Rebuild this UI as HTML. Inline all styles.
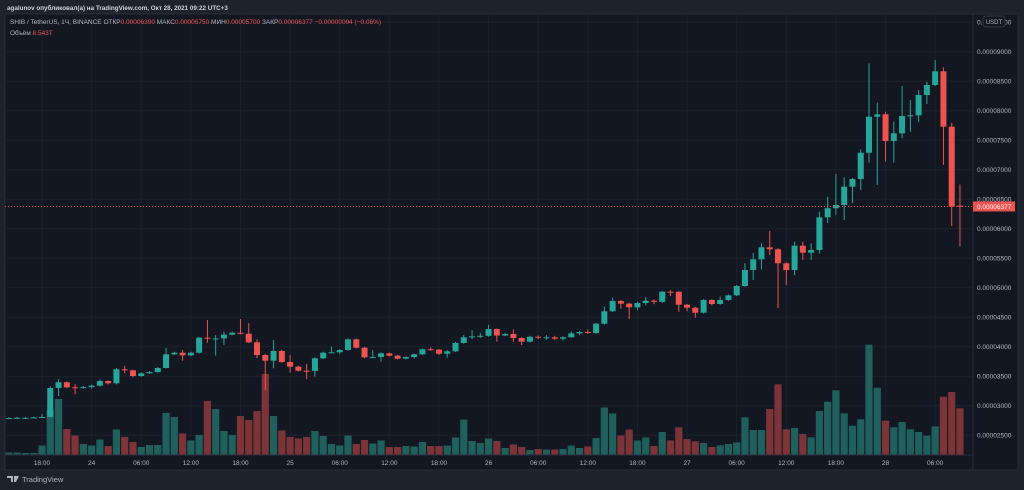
<!DOCTYPE html>
<html><head><meta charset="utf-8"><style>
body{margin:0;width:1024px;height:490px;background:#1e222d;overflow:hidden;font-family:"Liberation Sans","DejaVu Sans",sans-serif}
svg{display:block}
</style></head><body>
<svg id="c" width="1024" height="490" xmlns="http://www.w3.org/2000/svg">
<rect x="0" y="0" width="1024" height="490" fill="#1e222d"/>
<rect x="5" y="14" width="1013" height="456" fill="#131722" stroke="#2a2e39" stroke-width="1"/>
<text x="7" y="10" font-size="6.3" font-weight="bold" fill="#d1d4dc">agalunov опубликовал(а) на TradingView.com, Окт 28, 2021 09:22 UTC+3</text>
<g id="grid"></g><g id="vol"></g><g id="candles"></g>
<line x1="973" y1="14" x2="973" y2="470" stroke="#2a2e39"/>
<line x1="5" y1="455" x2="973" y2="455" stroke="#2a2e39"/>
<g id="axes"></g>
<text x="10" y="24" font-size="6.5" fill="#b2b5be">SHIB / TetherUS, 1Ч, BINANCE  ОТКР<tspan fill="#ef5350">0.00006390</tspan>  МАКС<tspan fill="#ef5350">0.00006750</tspan>  МИН<tspan fill="#ef5350">0.00005700</tspan>  ЗАКР<tspan fill="#ef5350">0.00006377  −0.00000004 (−0.06%)</tspan></text>
<text x="10" y="35" font-size="6.5" fill="#b2b5be">Объём  <tspan fill="#ef5350">8.543T</tspan></text>
<rect x="983" y="16" width="22" height="11" rx="3" fill="#131722" stroke="#363a45"/>
<text x="994" y="24" font-size="6" fill="#b2b5be" text-anchor="middle">USDT</text>
<g>
<path d="M7 476h6v6h-2v-4h-4z M14 476h5l-3 6h-2z" fill="#b2b5be"/>
<text x="22" y="482" font-size="7.5" fill="#b2b5be">TradingView</text>
</g>
</svg>
<script>
// prices in units of 1e-8
const opens=[2785,2790,2795,2795,2800,2810,3300,3397,3312,3310,3315,3339,3418,3380,3617,3600,3503,3549,3570,3639,3871,3898,3854,3898,4153,4136,4140,4204,4237,4220,4074,3859,3763,3927,3741,3661,3593,3590,3803,3898,3905,3944,4125,3983,3820,3825,3888,3847,3797,3825,3871,3956,3950,3881,3922,4063,4159,4175,4185,4300,4190,4215,4147,4085,4169,4160,4160,4136,4160,4226,4249,4232,4390,4600,4775,4730,4668,4740,4780,4760,4932,4930,4712,4661,4576,4792,4724,4792,4871,5029,5300,5481,5685,5651,5414,5300,5712,5593,5639,6193,6346,6402,6712,6842,7288,7898,7939,7486,7617,7910,7922,8266,8436,8668,7729,6390];
const closes=[2790,2795,2795,2800,2810,3300,3397,3312,3310,3315,3339,3418,3380,3617,3600,3503,3549,3570,3639,3871,3898,3854,3898,4153,4136,4140,4204,4237,4220,4074,3859,3763,3927,3741,3661,3593,3590,3803,3898,3905,3944,4125,3983,3820,3825,3888,3847,3797,3825,3871,3956,3950,3881,3922,4063,4159,4175,4185,4300,4190,4215,4147,4085,4169,4160,4160,4136,4160,4226,4249,4232,4390,4600,4775,4730,4668,4740,4780,4760,4932,4930,4712,4661,4576,4792,4724,4792,4871,5029,5300,5481,5685,5651,5414,5300,5712,5593,5639,6193,6346,6402,6712,6842,7288,7898,7939,7486,7617,7910,7922,8266,8436,8668,7729,6373,6377];
const highs=[2805,2810,2808,2815,2860,3328,3453,3410,3365,3335,3355,3440,3430,3640,3678,3610,3565,3585,3655,3980,3915,3944,3915,4165,4453,4198,4254,4255,4470,4402,4125,3875,4114,3945,3859,3675,3707,3820,3915,4000,3960,4140,4140,3995,3944,3905,3900,3860,3840,3885,3970,3990,3960,3940,4080,4200,4280,4230,4368,4310,4230,4295,4160,4185,4190,4195,4185,4175,4260,4265,4290,4405,4680,4830,4790,4745,4760,4840,4800,4945,4961,4945,4725,4675,4805,4805,4850,4885,5045,5416,5587,5754,5960,5670,5430,5780,5780,5754,6288,6542,6929,6871,6860,7346,8803,8136,7983,7814,8419,8181,8351,8492,8859,8736,7797,6750];
const lows=[2775,2778,2782,2785,2795,2800,3164,3295,3193,3290,3290,3325,3360,3360,3549,3480,3490,3540,3560,3630,3860,3763,3840,3885,4068,3847,4029,4195,4210,4060,3803,3266,3634,3725,3559,3580,3448,3492,3790,3890,3880,3930,3970,3805,3810,3746,3835,3785,3785,3800,3860,3930,3860,3814,3910,4050,4130,4150,4170,4085,4180,4085,4029,4070,4130,4120,4110,4105,4150,4200,4215,4220,4375,4590,4640,4470,4620,4700,4720,4745,4860,4593,4600,4492,4560,4700,4710,4780,4860,5015,5130,5310,5553,4656,5046,5215,5470,5470,5580,6097,6235,6147,6431,6656,7119,6741,7136,7119,7532,7644,7814,8114,8419,7080,6046,5700];
const volumes=[2.5,2.5,2,2,9.5,45,56,26,19.5,11,9.5,15.5,9,25.5,18,13,8,10,10,42,38,21.5,14.5,20,54,46,24,20,39,35,44,81,39,24.5,18,16.5,18,24,19,11,9.5,19.5,11,15,11.5,14.5,8,8,9,8.5,13,9,9,9.5,17.5,35.5,14,12,16.5,14,7,10.5,8,5,6,5.5,5.5,6,9.5,7,8.5,17,47.5,41.5,19.5,25.5,14.5,17.5,9,23,14.5,27.7,16,13.7,12,8,9.7,11,12.7,37.7,25,25,46,70.7,25.7,27,21,17.7,44,53.3,64.7,41.7,29.3,35.7,110.3,67.3,34.3,27.7,33,25.7,23,19.3,28.7,58.3,63,46.7];
const priceTicks=[9500,9000,8500,8000,7500,7000,6500,6000,5500,5000,4500,4000,3500,3000,2500];
const timeTickIdx=[4,10,16,22,28,34,40,46,52,58,64,70,76,82,88,94,100,106,112];
const timeTickLabels=["18:00","24","06:00","12:00","18:00","25","06:00","12:00","18:00","26","06:00","12:00","18:00","27","06:00","12:00","18:00","28","06:00"];
const lastPrice=6377;

const NS="http://www.w3.org/2000/svg";
const X=i=>42+(i-4)*8.27;
const Y=p=>51.7+(9000-p)*0.059;
const V=v=>455-v;
const fmt=p=>(p/1e8).toFixed(8);
function mk(parent,tag,attrs){const e=document.createElementNS(NS,tag);for(const k in attrs)e.setAttribute(k,attrs[k]);document.getElementById(parent).appendChild(e);return e;}
priceTicks.forEach(p=>{
  const g=mk('grid','line',{x1:5,x2:973,y1:Y(p),y2:Y(p),stroke:'#1c202b'});
  
  
  const t=mk('axes','text',{x:977,y:Y(p)+2.3,'font-size':6.5,fill:'#b2b5be'});
  t.textContent=fmt(p);
  
  
});
timeTickIdx.forEach((i,k)=>{
  const g=mk('grid','line',{x1:X(i),x2:X(i),y1:14,y2:455,stroke:'#1c202b'});
  
  
  const t=mk('axes','text',{x:X(i),y:465,'font-size':6.5,fill:'#b2b5be','text-anchor':'middle'});
  t.textContent=timeTickLabels[k];
  
  
});
volumes.forEach((v,i)=>{
  const up=closes[i]>=opens[i];
  const r=mk('vol','rect',{x:X(i)-3.6,y:V(v),width:7.2,height:v,fill:up?'#1f5f5c':'#7d3438'});
  
  
});
closes.forEach((c,i)=>{
  const o=opens[i],up=c>=o,col=up?'#26a69a':'#ef5350';
  const w=mk('candles','line',{x1:X(i),x2:X(i),y1:Y(highs[i]),y2:Y(lows[i]),stroke:col,'stroke-width':1});
  
  
  const top=Y(Math.max(o,c)),h=Math.max(1,Y(Math.min(o,c))-top);
  const b=mk('candles','rect',{x:X(i)-3,y:top,width:6,height:h,fill:col});
  
  
});
const pl=mk('axes','line',{x1:5,x2:973,y1:Y(lastPrice),y2:Y(lastPrice),stroke:'#ef5350','stroke-width':0.8,'stroke-dasharray':'1 2'});


const lb=mk('axes','rect',{x:973,y:Y(lastPrice)-5,width:42,height:10,fill:'#ef5350'});


const lt=mk('axes','text',{x:977,y:Y(lastPrice)+2.3,'font-size':6.5,fill:'#ffffff'});
lt.textContent=fmt(lastPrice);


</script>
</body></html>
